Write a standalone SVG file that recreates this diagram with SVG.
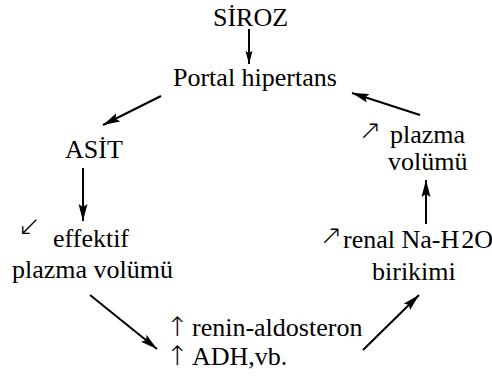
<svg xmlns="http://www.w3.org/2000/svg" width="492" height="380" viewBox="0 0 492 380">
<style>
.c{stroke:#000;stroke-width:2;fill:none}
.t{font-family:"Liberation Serif","DejaVu Serif",serif;font-size:26px;fill:#000}
.a{font-family:"DejaVu Sans",sans-serif;font-size:27px;font-weight:200;fill:#000}
</style>
<defs>
<marker id="ah" markerUnits="userSpaceOnUse" markerWidth="18" markerHeight="10" refX="17" refY="5" orient="auto">
<path d="M0,0.5 L17,5 L0,9.5 L3,5 z" fill="#000"/>
</marker>
<marker id="ahs" markerUnits="userSpaceOnUse" markerWidth="14" markerHeight="8" refX="13" refY="4" orient="auto">
<path d="M0,0.5 L13,4 L0,7.5 L2,4 z" fill="#000"/>
</marker>
</defs>
<rect width="492" height="380" fill="#fff"/>
<g id="connectors">
<line class="c" x1="249" y1="29" x2="249" y2="64" stroke-width="1.5" marker-end="url(#ahs)"/>
<line class="c" x1="161" y1="96" x2="103" y2="125" marker-end="url(#ah)"/>
<line class="c" x1="83" y1="168" x2="83" y2="221" stroke-width="1.5" marker-end="url(#ah)"/>
<line class="c" x1="90" y1="295" x2="157" y2="349" marker-end="url(#ah)"/>
<line class="c" x1="363" y1="350" x2="419" y2="295" marker-end="url(#ah)"/>
<line class="c" x1="426" y1="224" x2="426" y2="180" stroke-width="1.5" marker-end="url(#ah)"/>
<line class="c" x1="420" y1="115" x2="352" y2="93" marker-end="url(#ah)"/>
</g>
<g id="siroz"><text class="t" x="213" y="26" font-size="25.5">SİROZ</text></g>
<g id="portal"><text class="t" x="173" y="86" font-size="26.5">Portal hipertans</text></g>
<g id="asit"><text class="t" x="65" y="158" font-size="25">ASİT</text></g>
<g id="effektif">
<text class="a" x="18" y="235">↙&#xFE0E;</text>
<text class="t" x="53" y="247" font-size="25.5">effektif</text>
<text class="t" x="12" y="278" font-size="26.5">plazma volümü</text>
</g>
<g id="renin">
<text class="a" x="166" y="336" font-size="23">↑&#xFE0E;</text>
<text class="t" x="192" y="336" font-size="24.5">renin-aldosteron</text>
<text class="a" x="166" y="365" font-size="23">↑&#xFE0E;</text>
<text class="t" x="192" y="365" font-size="24.5">ADH,vb.</text>
</g>
<g id="renal">
<text class="a" x="320" y="244">↗&#xFE0E;</text>
<text class="t" x="343" y="248" font-size="25">renal Na-H<tspan dx="2">2O</tspan></text>
<text class="t" x="372" y="280">birikimi</text>
</g>
<g id="plazma">
<text class="a" x="359" y="139">↗&#xFE0E;</text>
<text class="t" x="390" y="143" font-size="25.5">plazma</text>
<text class="t" x="388" y="170">volümü</text>
</g>
</svg>
